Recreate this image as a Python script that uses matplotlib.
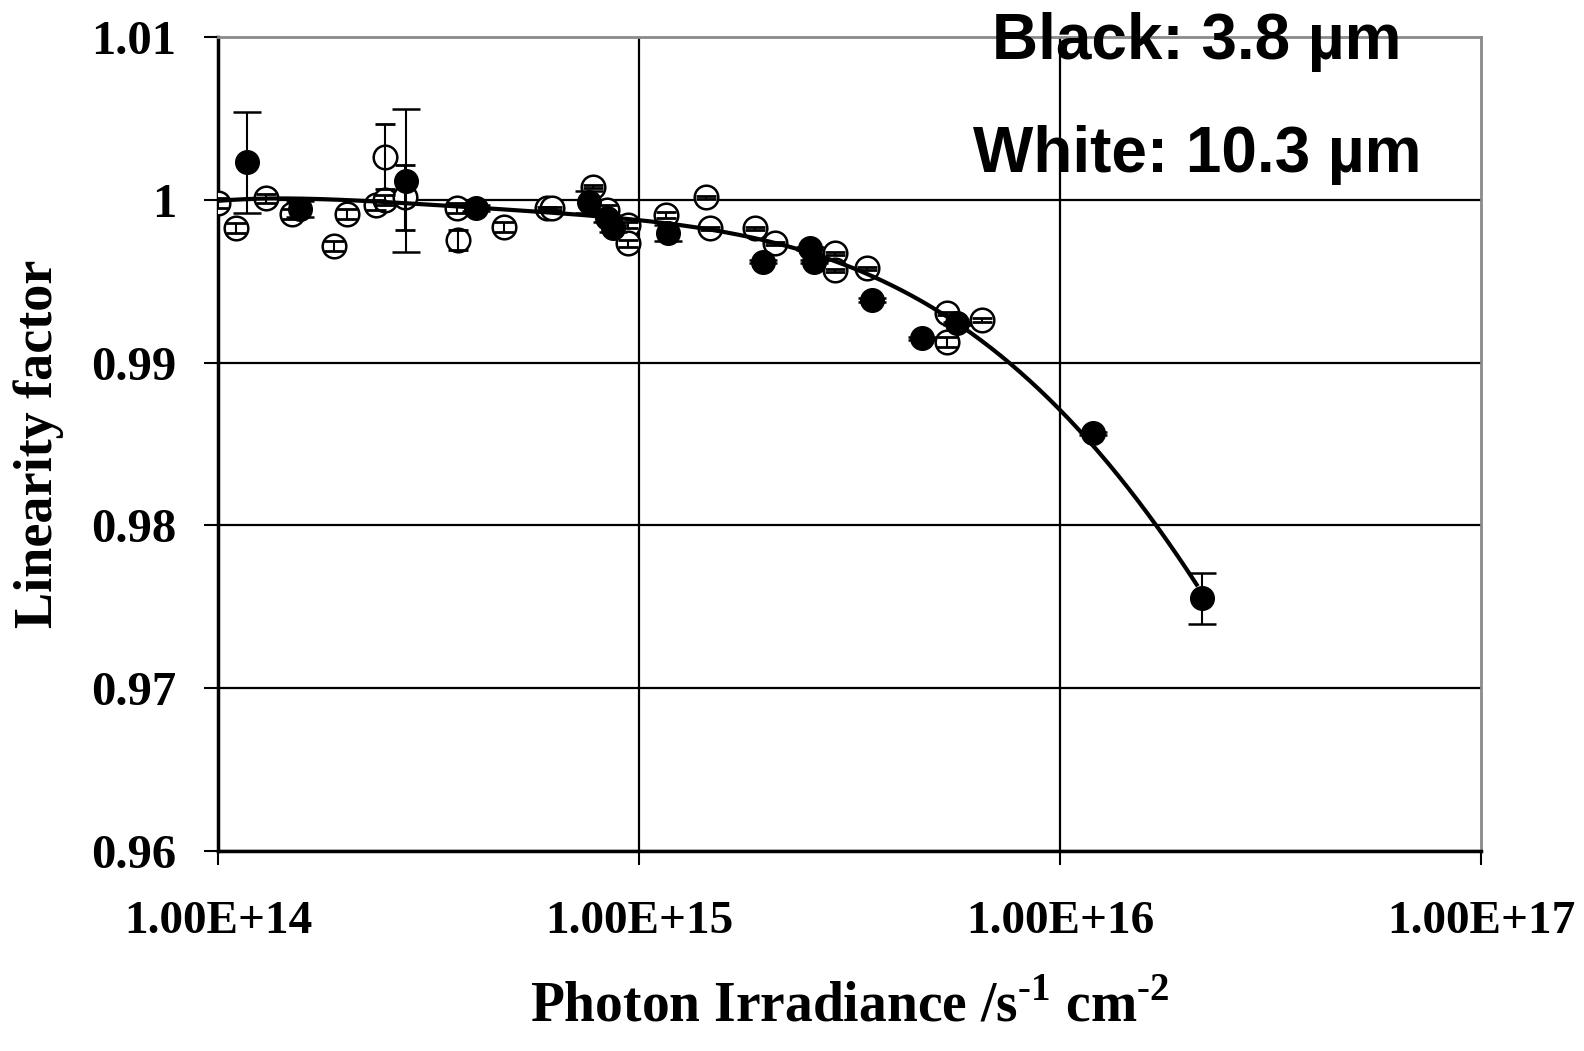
import matplotlib
matplotlib.use("Agg")
import matplotlib.pyplot as plt
import numpy as np

plt.rcParams['mathtext.fontset'] = 'custom'
plt.rcParams['mathtext.rm'] = 'Liberation Serif:bold'
plt.rcParams['mathtext.bf'] = 'Liberation Serif:bold'

# Black markers: 3.8 um detector
black_x = [1.17e14, 1.56e14, 2.80e14, 4.10e14, 7.58e14, 8.40e14, 8.65e14,
           1.17e15, 1.97e15, 2.55e15, 2.60e15, 3.57e15, 4.69e15, 5.69e15,
           1.20e16, 2.17e16]
black_y = [1.00232, 0.99946, 1.00120, 0.99950, 0.99988, 0.99888, 0.99826,
           0.99796, 0.99621, 0.99703, 0.99621, 0.99385, 0.99149, 0.99242,
           0.98565, 0.97550]
black_err = [0.0031, 0.0005, 0.0044, 0.0002, 0.0007, 0.0002, 0.0002,
             0.0005, 0.0001, 0.0001, 0.0001, 0.0001, 0.0001, 0.0001,
             0.0001, 0.00156]

# White markers: 10.3 um detector
white_x = [1.00e14, 1.10e14, 1.30e14, 1.50e14, 1.88e14, 2.02e14, 2.37e14,
           2.49e14, 2.49e14, 2.78e14, 3.69e14, 3.72e14, 4.78e14, 6.03e14,
           6.21e14, 7.78e14, 8.38e14, 9.42e14, 9.42e14, 1.16e15, 1.44e15,
           1.47e15, 1.88e15, 2.10e15, 2.92e15, 2.92e15, 3.47e15, 5.38e15,
           5.38e15, 6.52e15]
white_y = [0.99980, 0.99826, 1.00010, 0.99914, 0.99717, 0.99914, 0.99969,
           1.00266, 1.00000, 1.00018, 0.99949, 0.99754, 0.99836, 0.99949,
           0.99950, 1.00082, 0.99938, 0.99846, 0.99734, 0.99908, 1.00017,
           0.99826, 0.99826, 0.99734, 0.99672, 0.99569, 0.99580, 0.99303,
           0.99128, 0.99262]
white_err = [0.0003, 0.0003, 0.0003, 0.0003, 0.0003, 0.0003, 0.0003,
             0.0020, 0.0003, 0.0020, 0.0003, 0.0006, 0.0003, 0.0001,
             0.0001, 0.0001, 0.0003, 0.0002, 0.0002, 0.0002, 0.0001,
             0.0001, 0.0001, 0.0001, 0.0001, 0.0001, 0.0001, 0.0001,
             0.0003, 0.0001]

# Fitted linearity curve (sampled)
curve_x = [1.00e14, 1.78e14, 3.69e14, 5.30e14, 7.64e14, 1.00e15, 1.47e15,
           2.32e15, 3.36e15, 4.02e15, 5.68e15, 7.46e15, 1.00e16, 1.39e16,
           1.70e16, 2.11e16]
curve_y = [1.00000, 0.99990, 0.99969, 0.99949, 0.99910, 0.99867, 0.99805,
           0.99692, 0.99569, 0.99477, 0.99262, 0.99016, 0.98698, 0.98278,
           0.97991, 0.97643]

y_ticks = [0.96, 0.97, 0.98, 0.99, 1.00, 1.01]
y_tick_labels = ['0.96', '0.97', '0.98', '0.99', '1', '1.01']
x_ticks = [1e14, 1e15, 1e16, 1e17]
x_tick_labels = ['1.00E+14', '1.00E+15', '1.00E+16', '1.00E+17']

fig = plt.figure(figsize=(15.84, 10.51), dpi=100)
ax = fig.add_axes([0.1378, 0.1907, 0.935 - 0.1378, 0.9644 - 0.1907])

ax.set_xscale('log')
ax.set_xlim(1e14, 1e17)
ax.set_ylim(0.96, 1.01)

# grid lines
for yv in y_ticks[:-1]:
    ax.axhline(yv, color='black', lw=1.6, zorder=1)
for xv in x_ticks[1:-1]:
    ax.axvline(xv, color='black', lw=1.6, zorder=1)

serif = 'Liberation Serif'
ax.set_yticks(y_ticks)
ax.set_yticklabels(y_tick_labels, fontfamily=serif, fontweight='bold', fontsize=35)
ax.set_xticks(x_ticks)
ax.set_xticklabels(x_tick_labels, fontfamily=serif, fontweight='bold', fontsize=34)
ax.minorticks_off()
ax.tick_params(axis='y', direction='out', length=10, width=1.5, pad=20)
ax.tick_params(axis='x', direction='out', length=10, width=1.5, pad=26)

for side in ('top', 'right'):
    ax.spines[side].set_color('#8a8a8a')
    ax.spines[side].set_linewidth(2)
ax.spines['left'].set_linewidth(2.5)
ax.spines['bottom'].set_linewidth(2.5)

# open markers
ax.plot(white_x, white_y, 'o', ms=17, mfc='white', mec='black', mew=1.8,
        zorder=3)
ax.errorbar(white_x, white_y, yerr=white_err, fmt='none', ecolor='black',
            elinewidth=1.5, capsize=7, capthick=2, zorder=4)

# fitted curve, smoothed through the sampled points in log space
lx = np.log10(curve_x)
coef = np.polyfit(lx, curve_y, 5)
lx_fine = np.linspace(lx[0], lx[-1], 300)
ax.plot(10 ** lx_fine, np.polyval(coef, lx_fine), '-', color='black', lw=3,
        zorder=5)

# filled markers
ax.plot(black_x, black_y, 'o', ms=17, mfc='black', mec='black', zorder=6)
ax.errorbar(black_x, black_y, yerr=black_err, fmt='none', ecolor='black',
            elinewidth=1.5, capsize=10, capthick=1.8, zorder=7)

ax.set_ylabel('Linearity factor', fontfamily=serif, fontweight='bold',
              fontsize=39, labelpad=20)
ax.set_xlabel(r'Photon Irradiance /s$^{\text{-1}}$ cm$^{\text{-2}}$',
              fontfamily=serif, fontweight='bold', fontsize=40, labelpad=28)

fig.text(1197 / 1584, 1 - 59 / 1051, 'Black: 3.8 µm', ha='center',
         va='baseline', fontfamily='Liberation Sans', fontweight='bold',
         fontsize=46)
fig.text(1197 / 1584, 1 - 172 / 1051, 'White: 10.3 µm', ha='center',
         va='baseline', fontfamily='Liberation Sans', fontweight='bold',
         fontsize=46)

fig.savefig('out.png', dpi=100)
